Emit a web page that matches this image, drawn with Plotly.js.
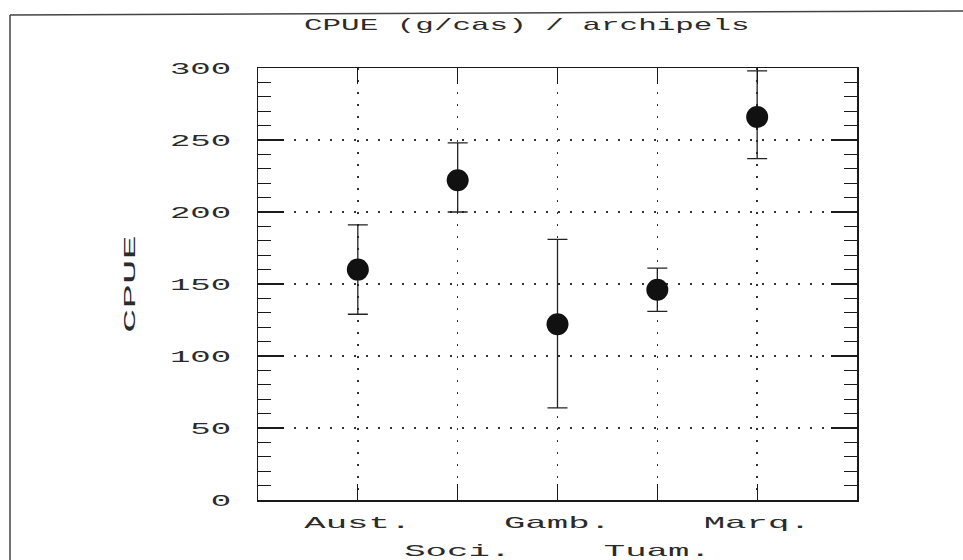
<!DOCTYPE html>
<html><head><meta charset="utf-8">
<script src="https://cdn.plot.ly/plotly-3.0.1.min.js"></script>
<style>body{margin:0;background:#fff}</style>
</head><body><div id="chart" style="width:963px;height:560px"></div>
<script>
// ---- data ----
const archipelagos = ['Aust.', 'Soci.', 'Gamb.', 'Tuam.', 'Marq.'];
const cpue        = [160, 222, 122, 146, 266];
const errUpper    = [31, 26, 59, 15, 32];
const errLower    = [31, 22, 58, 15, 29];
const yTickVals   = [0, 50, 100, 150, 200, 250, 300];
const yTickText   = ['0', '50', '100', '150', '200', '250', '300'];
const xLabelsRow1 = ['Aust.', 'Gamb.', 'Marq.'];
const xLabelsRow2 = ['Soci.', 'Tuam.'];
const chartTitle  = 'CPUE (g/cas) / archipels';
const yTitle      = 'CPUE';

// ---- style ----
const FONT = 'Liberation Mono, DejaVu Sans Mono, monospace';
const INK = '#1a1a1a';
const TXT = '#2b2b2b';
const GRID = '#333333';

const traces = [
  {
    type: 'scatter', mode: 'markers', x: archipelagos, y: cpue, xaxis: 'x', yaxis: 'y',
    marker: {size: 22, color: '#111111'},
    error_y: {type: 'data', symmetric: false, array: errUpper, arrayminus: errLower,
              color: '#222222', thickness: 1.3, width: 10},
    cliponaxis: false, hoverinfo: 'skip', showlegend: false
  },
  {
    type: 'scatter', mode: 'none', x: archipelagos, y: cpue, xaxis: 'x2', yaxis: 'y',
    hoverinfo: 'skip', showlegend: false
  }
];

const xCommon = {
  type: 'category', categoryorder: 'array', categoryarray: archipelagos, range: [-1, 5],
  showline: true, linecolor: INK, linewidth: 1.5, mirror: 'ticks',
  ticks: 'inside', ticklen: 16, tickwidth: 1.2, tickcolor: INK,
  showgrid: true, gridcolor: GRID, gridwidth: 1.5, griddash: '2px,10px', zeroline: false,
  tickfont: {family: FONT, size: 17, color: TXT}, tickmode: 'array', fixedrange: true
};

const layout = {
  width: 963, height: 560,
  paper_bgcolor: '#ffffff', plot_bgcolor: '#ffffff',
  margin: {l: 258, r: 106, t: 68, b: 60},
  showlegend: false,
  title: {
    text: chartTitle, font: {family: FONT, size: 17, color: TXT},
    xref: 'container', x: 0.547, xanchor: 'center',
    yref: 'container', y: 1 - 24 / 560, yanchor: 'middle'
  },
  xaxis: Object.assign({}, xCommon, {tickvals: xLabelsRow1, ticktext: xLabelsRow1, ticklabelstandoff: 6}),
  xaxis2: Object.assign({}, xCommon, {overlaying: 'x', anchor: 'y', side: 'bottom', matches: 'x',
                                      tickvals: xLabelsRow2, ticktext: xLabelsRow2, ticklabelstandoff: 34}),
  yaxis: {
    range: [0, 300], tickmode: 'array', tickvals: yTickVals, ticktext: yTickText,
    ticks: 'inside', ticklen: 26, tickwidth: 1.2, tickcolor: INK,
    minor: {tickmode: 'linear', tick0: 0, dtick: 10, ticks: 'inside', ticklen: 13,
            tickwidth: 1.2, tickcolor: INK, showgrid: false},
    showline: true, linecolor: INK, linewidth: 1.5, mirror: 'ticks',
    showgrid: true, gridcolor: GRID, gridwidth: 1.5, griddash: '2px,10px', zeroline: false,
    tickfont: {family: FONT, size: 17, color: TXT}, ticklabelstandoff: 22, fixedrange: true,
    title: {text: yTitle, font: {family: FONT, size: 17, color: TXT}, standoff: 60}
  },
  shapes: [
    // scanned page frame
    {type: 'line', xref: 'paper', yref: 'paper', x0: (10 - 258) / 599, x1: (10 - 258) / 599,
     y0: (500 - 15) / 432, y1: (500 - 562) / 432, line: {color: '#444', width: 1.5}},
    {type: 'line', xref: 'paper', yref: 'paper', x0: (10 - 258) / 599, x1: (965 - 258) / 599,
     y0: (500 - 15) / 432, y1: (500 - 11) / 432, line: {color: '#444', width: 1.5}}
  ]
};

function stretch(sel, f) {
  document.querySelectorAll(sel).forEach(function (t) {
    const L = t.getComputedTextLength();
    if (L > 0) {
      t.setAttribute('textLength', (L * f).toFixed(1));
      t.setAttribute('lengthAdjust', 'spacingAndGlyphs');
    }
  });
}

Plotly.newPlot('chart', traces, layout, {staticPlot: true}).then(function () {
  stretch('.xtick text', 2.1);
  stretch('.x2tick text', 2.1);
  stretch('.ytick text', 2.0);
  stretch('.gtitle', 1.82);
  stretch('.ytitle', 2.4);
});
</script>
</body></html>
